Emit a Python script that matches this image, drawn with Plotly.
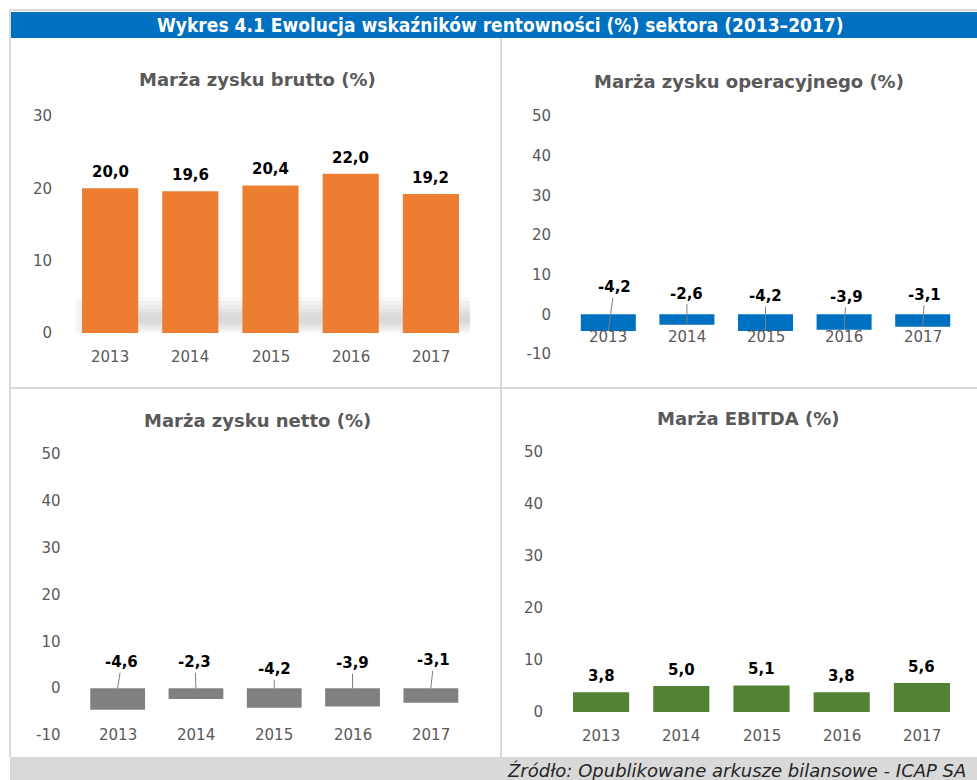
import plotly.graph_objects as go

W, H = 977, 780

years = ["2013", "2014", "2015", "2016", "2017"]
brutto = [20.0, 19.6, 20.4, 22.0, 19.2]
operacyjny = [-4.2, -2.6, -4.2, -3.9, -3.1]
netto = [-4.6, -2.3, -4.2, -3.9, -3.1]
ebitda = [3.8, 5.0, 5.1, 3.8, 5.6]

ticks_brutto = [0, 10, 20, 30]
ticks_wide = [-10, 0, 10, 20, 30, 40, 50]
ticks_ebitda = [0, 10, 20, 30, 40, 50]

main_title = "Wykres 4.1 Ewolucja wskaźników rentowności (%) sektora (2013–2017)"
panel_titles = ["Marża zysku brutto (%)", "Marża zysku operacyjnego (%)",
                "Marża zysku netto (%)", "Marża EBITDA (%)"]
source_text = "Źródło: Opublikowane arkusze bilansowe - ICAP SA"

def fmt(v):
    return f"{v:.1f}".replace(".", ",")

def px_x(p):
    return p / W

def px_y(p):
    return 1 - p / H

FONT = "DejaVu Sans, Verdana, sans-serif"
GREY_TXT = "#595959"
LINE = "#D9D9D9"

fig = go.Figure()

panels = [
    (brutto, "#ED7D31", "x", "y", (70, 471), (333, 116), [0, 30], ticks_brutto, 357),
    (operacyjny, "#0070C0", "x2", "y2", (569, 962), (354, 116), [-10, 50], ticks_wide, 337),
    (netto, "#808080", "x3", "y3", (78.5, 470), (735, 454), [-10, 50], ticks_wide, 735),
    (ebitda, "#548235", "x4", "y4", (561, 962), (712, 452), [0, 50], ticks_ebitda, 736),
]

annotations = []
shapes = []

for i, (vals, col, xa, ya, xd, yd, rng, tv, ylab) in enumerate(panels):
    fig.add_trace(go.Bar(x=years, y=vals, marker=dict(color=col, line=dict(width=0)),
                         xaxis=xa, yaxis=ya, showlegend=False, hoverinfo="x+y"))
    suffix = "" if i == 0 else str(i + 1)
    fig.layout["xaxis" + suffix] = dict(domain=[px_x(xd[0]), px_x(xd[1])], anchor=ya,
                                        type="category", range=[-0.5, len(years) - 0.5],
                                        showticklabels=False, showgrid=False, zeroline=False,
                                        showline=False, ticks="", fixedrange=True,
                                        automargin=False)
    fig.layout["yaxis" + suffix] = dict(domain=[px_y(yd[0]), px_y(yd[1])], anchor=xa,
                                        range=rng, tickmode="array", tickvals=tv,
                                        ticktext=[str(t) for t in tv],
                                        showgrid=False, zeroline=False,
                                        showline=False, ticks="outside", ticklen=14,
                                        tickcolor="rgba(0,0,0,0)",
                                        tickfont=dict(family=FONT, size=15, color=GREY_TXT),
                                        fixedrange=True, automargin=False)
    for k, yr in enumerate(years):
        annotations.append(dict(x=k, y=px_y(ylab), xref=xa, yref="paper", text=yr,
                                showarrow=False, yanchor="middle",
                                font=dict(family=FONT, size=15, color=GREY_TXT)))

for vals, xa, ya in [(brutto, "x", "y"), (ebitda, "x4", "y4")]:
    for k, v in enumerate(vals):
        annotations.append(dict(x=k, y=v, xref=xa, yref=ya, text="<b>" + fmt(v) + "</b>",
                                showarrow=False, yanchor="bottom", yshift=5,
                                font=dict(family=FONT, size=15, color="#000000")))

op_off = [(6, -44), (0, -31), (0, -35), (2, -33), (2, -32)]
net_off = [(4, -26), (-1, -26), (0, -19), (0, -25), (3, -28)]
for k, (v, (ax, ay)) in enumerate(zip(operacyjny, op_off)):
    annotations.append(dict(x=k, y=v, xref="x2", yref="y2", text="<b>" + fmt(v) + "</b>",
                            showarrow=True, arrowhead=0, arrowwidth=1, arrowcolor="#7F7F7F",
                            ax=ax, ay=ay, standoff=0, startstandoff=0,
                            font=dict(family=FONT, size=15, color="#000000")))
for k, (v, (ax, ay)) in enumerate(zip(netto, net_off)):
    annotations.append(dict(x=k, y=0, xref="x3", yref="y3", text="<b>" + fmt(v) + "</b>",
                            showarrow=True, arrowhead=0, arrowwidth=1, arrowcolor="#7F7F7F",
                            ax=ax, ay=ay, standoff=0, startstandoff=0,
                            font=dict(family=FONT, size=15, color="#000000")))

title_pos = [(257, 80), (749, 82), (257, 420), (748, 418)]
for t, (cx, cy) in zip(panel_titles, title_pos):
    annotations.append(dict(x=px_x(cx), y=px_y(cy), xref="paper", yref="paper",
                            text="<b>" + t + "</b>", showarrow=False,
                            xanchor="center", yanchor="middle",
                            font=dict(family=FONT, size=18, color=GREY_TXT)))

annotations.append(dict(x=px_x(500), y=px_y(25), xref="paper", yref="paper",
                        text="<b>" + main_title + "</b>", showarrow=False,
                        xanchor="center", yanchor="middle",
                        font=dict(family="DejaVu Sans Condensed, Liberation Sans Narrow, DejaVu Sans", size=19, color="#FFFFFF")))
annotations.append(dict(x=px_x(968), y=px_y(770), xref="paper", yref="paper",
                        text="<i>" + source_text + "</i>", showarrow=False,
                        xanchor="right", yanchor="middle",
                        font=dict(family=FONT, size=18, color="#262626")))

def rect(x0, y0, x1, y1, fill, layer="below", opacity=1.0):
    return dict(type="rect", xref="paper", yref="paper",
                x0=px_x(x0), x1=px_x(x1), y0=px_y(y1), y1=px_y(y0),
                fillcolor=fill, line=dict(width=0), layer=layer, opacity=opacity)

def hline(x0, x1, y, color=LINE, w=2):
    return dict(type="line", xref="paper", yref="paper", x0=px_x(x0), x1=px_x(x1),
                y0=px_y(y), y1=px_y(y), line=dict(color=color, width=w), layer="below")

def vline(x, y0, y1, color=LINE, w=2):
    return dict(type="line", xref="paper", yref="paper", x0=px_x(x), x1=px_x(x),
                y0=px_y(y0), y1=px_y(y1), line=dict(color=color, width=w), layer="below")

shapes.append(hline(10, W, 10))
shapes.append(rect(10, 12, W, 38, "#0070C0"))
shapes.append(vline(10, 10, 757))
shapes.append(vline(501, 38, 757))
shapes.append(hline(10, W, 388))
shapes.append(rect(10, 757, W, H, "#D9D9D9"))

for k, (a, b) in enumerate([(297, 333), (301, 331), (305, 329), (309, 327), (312, 325), (315, 323)]):
    shapes.append(rect(75 + k * 3, a, 470, b, "#9E9E9E", opacity=0.07))

fig.update_layout(width=W, height=H, autosize=False,
                  margin=dict(l=0, r=0, t=0, b=0, pad=0, autoexpand=False),
                  paper_bgcolor="#FFFFFF", plot_bgcolor="rgba(0,0,0,0)",
                  bargap=0.3, annotations=annotations, shapes=shapes,
                  font=dict(family=FONT))

fig.write_html("out.html", config={"responsive": False, "displayModeBar": False},
               post_script="document.body.style.margin='0';document.body.style.overflow='hidden';")
